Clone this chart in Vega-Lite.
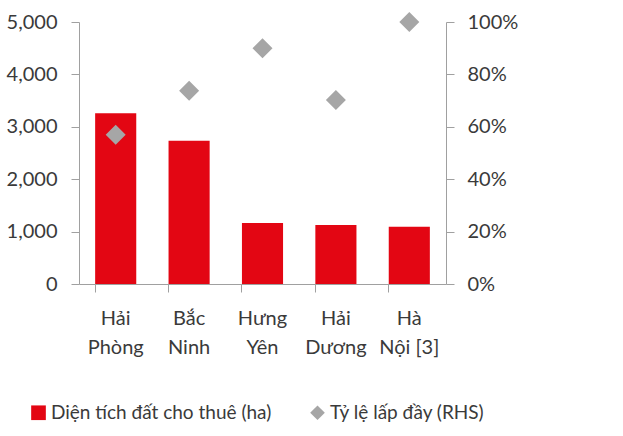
{
  "$schema": "https://vega.github.io/schema/vega-lite/v6.json",
  "autosize": "none",
  "width": 367,
  "height": 262,
  "padding": {"left": 79, "top": 22, "right": 177, "bottom": 152},
  "background": "white",
  "config": {
    "view": {"stroke": null},
    "font": "Lato, sans-serif",
    "axis": {
      "labelFont": "Lato, sans-serif",
      "labelFontSize": 20,
      "labelColor": "#3a3a3a",
      "domainColor": "#a0a0a0",
      "tickColor": "#a0a0a0",
      "tickSize": 8,
      "grid": false,
      "title": null
    }
  },
  "data": {
    "values": [
      {"province": "Hải Phòng", "area": 3257, "occupancy": 0.57},
      {"province": "Bắc Ninh", "area": 2735, "occupancy": 0.738},
      {"province": "Hưng Yên", "area": 1164, "occupancy": 0.90},
      {"province": "Hải Dương", "area": 1126, "occupancy": 0.702},
      {"province": "Hà Nội [3]", "area": 1094, "occupancy": 1.0}
    ]
  },
  "layer": [
    {
      "mark": {"type": "bar"},
      "encoding": {
        "x": {
          "field": "province",
          "type": "nominal",
          "sort": null,
          "scale": {"paddingInner": 0.44, "paddingOuter": 0.22},
          "axis": {
            "labelAngle": 0,
            "bandPosition": 0,
            "labelPadding": 16,
            "labelLineHeight": 29,
            "labelExpr": "[substring(datum.value, 0, indexof(datum.value, ' ')), substring(datum.value, indexof(datum.value, ' ') + 1)]"
          }
        },
        "y": {
          "field": "area",
          "type": "quantitative",
          "scale": {"domain": [0, 5000], "nice": false},
          "axis": {"values": [0, 1000, 2000, 3000, 4000, 5000], "format": ",d", "labelPadding": 14}
        },
        "color": {
          "datum": "Diện tích đất cho thuê (ha)",
          "scale": {
            "domain": ["Diện tích đất cho thuê (ha)", "Tỷ lệ lấp đầy (RHS)"],
            "range": ["#E30613", "#A6A6A6"]
          },
          "legend": {
            "orient": "none",
            "legendX": -50,
            "legendY": 381,
            "direction": "horizontal",
            "columns": 2,
            "columnPadding": 36,
            "padding": 0,
            "title": null,
            "labelFont": "Lato, sans-serif",
            "labelFontSize": 19,
            "labelLimit": 0,
            "labelColor": "#3a3a3a",
            "labelOffset": 3,
            "symbolSize": 215,
            "symbolStrokeWidth": 0,
            "symbolOpacity": 1,
            "encode": {
              "symbols": {
                "update": {
                  "shape": {"signal": "datum.value === 'Tỷ lệ lấp đầy (RHS)' ? 'diamond' : 'square'"}
                }
              }
            }
          }
        }
      }
    },
    {
      "mark": {"type": "point", "shape": "diamond", "filled": true, "size": 400, "opacity": 1},
      "encoding": {
        "x": {"field": "province", "type": "nominal", "sort": null},
        "y": {
          "field": "occupancy",
          "type": "quantitative",
          "scale": {"domain": [0, 1], "nice": false},
          "axis": {"orient": "right", "values": [0, 0.2, 0.4, 0.6, 0.8, 1], "format": ".0%", "labelPadding": 13}
        },
        "color": {"datum": "Tỷ lệ lấp đầy (RHS)"}
      }
    }
  ],
  "resolve": {"scale": {"y": "independent"}}
}
